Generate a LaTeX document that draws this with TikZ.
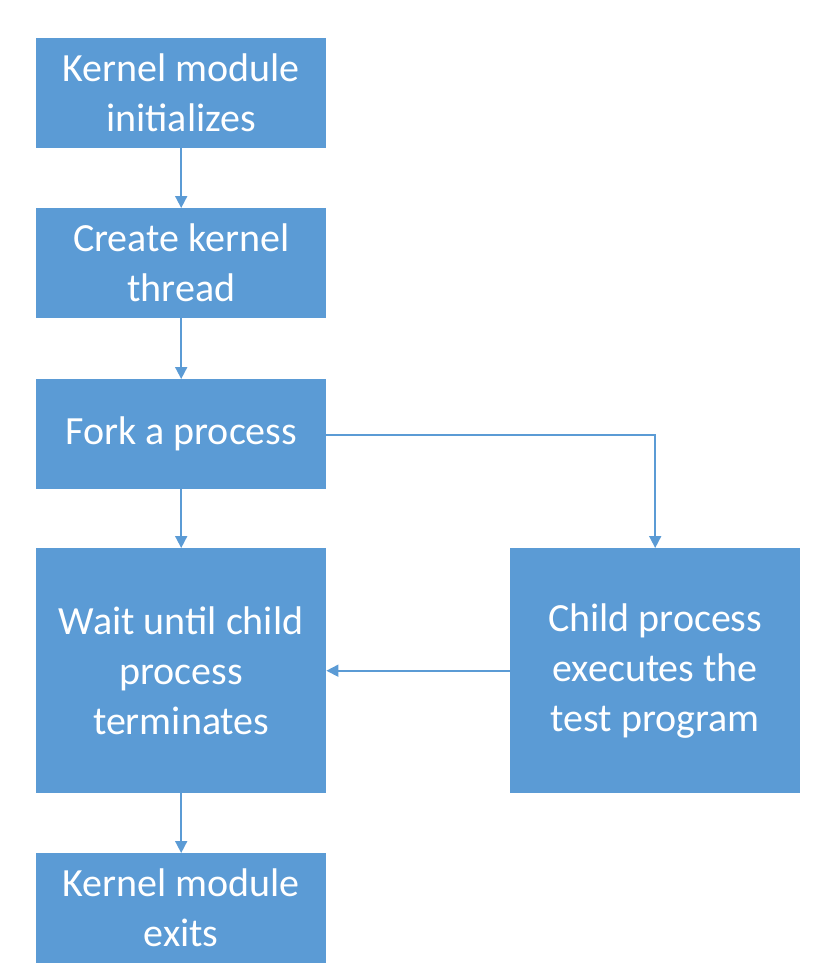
\documentclass[tikz,border=0pt]{standalone}
\usepackage{fontspec}
\setmainfont{Carlito}
\usetikzlibrary{arrows.meta,positioning}
\definecolor{boxblue}{HTML}{5B9BD5}
\begin{document}
\begin{tikzpicture}[x=1pt,y=-1pt,
  box/.style={draw=none,fill=boxblue,text=white,inner sep=0pt,
    align=center,font=\fontsize{40}{50}\selectfont,anchor=north west},
  conn/.style={draw=boxblue,line width=1.7pt,-{Triangle[width=12pt,length=12pt]}}]
\useasboundingbox (0,0) rectangle (826,978);
\node[box,minimum width=290pt,minimum height=110pt] (a) at (36,38) {Kernel module\\initializes};
\node[box,minimum width=290pt,minimum height=110pt] (b) at (36,208) {Create kernel\\thread};
\node[box,minimum width=290pt,minimum height=110pt] (c) at (36,379) {Fork a process};
\node[box,minimum width=290pt,minimum height=245pt] (d) at (36,548) {Wait until child\\process\\terminates};
\node[box,minimum width=290pt,minimum height=245pt] (e) at (510,548) {Child process\\executes the\\test program};
\node[box,minimum width=290pt,minimum height=110pt] (f) at (36,853) {Kernel module\\exits};
\draw[conn] (a.south) -- (b.north);
\draw[conn] (b.south) -- (c.north);
\draw[conn] (c.south) -- (d.north);
\draw[conn] ([yshift=-1pt]c.east) -| (e.north);
\draw[conn] (e.west) -- (d.east);
\draw[conn] (d.south) -- (f.north);
\end{tikzpicture}
\end{document}
